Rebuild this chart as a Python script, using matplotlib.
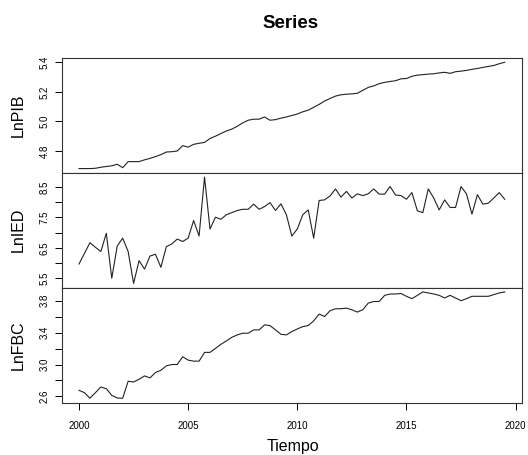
"""Stacked quarterly time series (LnPIB, LnIED, LnFBC) in R plot.ts style."""

import matplotlib

matplotlib.use("Agg")
import matplotlib.pyplot as plt
import numpy as np

START_YEAR = 2000.0
FREQ = 4

LN_PIB = [
    4.681, 4.681, 4.681, 4.683, 4.690, 4.695, 4.700, 4.710,
    4.687, 4.728, 4.728, 4.728, 4.740, 4.750, 4.762, 4.775,
    4.793, 4.795, 4.800, 4.836, 4.826, 4.845, 4.852, 4.858,
    4.884, 4.900, 4.918, 4.935, 4.948, 4.967, 4.990, 5.008,
    5.015, 5.015, 5.030, 5.008, 5.012, 5.022, 5.030, 5.040,
    5.050, 5.065, 5.076, 5.095, 5.115, 5.138, 5.155, 5.171,
    5.180, 5.184, 5.186, 5.190, 5.210, 5.230, 5.240, 5.255,
    5.264, 5.270, 5.275, 5.288, 5.290, 5.305, 5.313, 5.316,
    5.320, 5.322, 5.328, 5.332, 5.325, 5.336, 5.340, 5.345,
    5.352, 5.358, 5.365, 5.372, 5.378, 5.390, 5.400,
]

LN_IED = [
    5.97, 6.32, 6.67, 6.52, 6.38, 6.98, 5.50, 6.56,
    6.82, 6.38, 5.33, 6.08, 5.80, 6.23, 6.29, 5.86,
    6.54, 6.63, 6.79, 6.71, 6.82, 7.40, 6.89, 8.83,
    7.12, 7.51, 7.44, 7.59, 7.66, 7.73, 7.77, 7.77,
    7.94, 7.77, 7.86, 7.99, 7.73, 7.95, 7.59, 6.89,
    7.12, 7.59, 7.75, 6.82, 8.06, 8.08, 8.21, 8.44,
    8.17, 8.36, 8.14, 8.28, 8.22, 8.28, 8.44, 8.27,
    8.27, 8.52, 8.24, 8.22, 8.10, 8.32, 7.72, 7.66,
    8.44, 8.14, 7.75, 8.08, 7.83, 7.83, 8.52, 8.28,
    7.61, 8.25, 7.94, 7.97, 8.14, 8.32, 8.10,
]

LN_FBC = [
    2.676, 2.647, 2.577, 2.647, 2.718, 2.697, 2.613, 2.580,
    2.577, 2.790, 2.781, 2.815, 2.857, 2.832, 2.899, 2.928,
    2.983, 3.000, 3.000, 3.097, 3.055, 3.042, 3.042, 3.152,
    3.152, 3.202, 3.253, 3.295, 3.341, 3.371, 3.392, 3.392,
    3.434, 3.434, 3.497, 3.488, 3.434, 3.379, 3.371, 3.413,
    3.446, 3.475, 3.488, 3.547, 3.632, 3.602, 3.674, 3.699,
    3.699, 3.707, 3.686, 3.657, 3.686, 3.770, 3.790, 3.790,
    3.867, 3.884, 3.884, 3.890, 3.855, 3.825, 3.867, 3.910,
    3.897, 3.884, 3.867, 3.834, 3.867, 3.834, 3.800, 3.825,
    3.855, 3.855, 3.855, 3.855, 3.876, 3.897, 3.910,
]

SERIES_NAMES = ["LnPIB", "LnIED", "LnFBC"]
Y_TICKS = [
    [4.8, 5.0, 5.2, 5.4],
    [5.5, 6.0, 6.5, 7.0, 7.5, 8.0, 8.5],
    [2.6, 2.8, 3.0, 3.2, 3.4, 3.6, 3.8],
]
Y_TICK_LABELS = [
    ["4.8", "5.0", "5.2", "5.4"],
    ["5.5", "", "6.5", "", "7.5", "", "8.5"],
    ["2.6", "", "3.0", "", "3.4", "", "3.8"],
]
X_TICKS = [2000, 2005, 2010, 2015, 2020]


def r_limits(values):
    """Mimic R's default 4% axis extension."""
    lo, hi = float(np.min(values)), float(np.max(values))
    pad = 0.04 * (hi - lo)
    return lo - pad, hi + pad


def main():
    plt.rcParams["font.family"] = ["Liberation Sans", "DejaVu Sans"]

    series = [LN_PIB, LN_IED, LN_FBC]
    time = START_YEAR + np.arange(len(LN_PIB)) / FREQ

    fig = plt.figure(figsize=(5.28, 4.55), dpi=100)
    left, right = 62 / 528, 521.7 / 528
    top, bottom = 1 - 58 / 455, 1 - 402.5 / 455
    height = (top - bottom) / 3

    axes = []
    for i, (name, values) in enumerate(zip(SERIES_NAMES, series)):
        ax = fig.add_axes([left, top - (i + 1) * height, right - left, height])
        ax.plot(time, values, color="#222222", linewidth=0.8)
        ax.set_xlim(r_limits(time))
        ax.set_ylim(r_limits(values))
        ax.set_yticks(Y_TICKS[i])
        ax.set_yticklabels(Y_TICK_LABELS[i], rotation=90, va="center")
        ax.tick_params(axis="y", direction="out", length=5, width=0.7,
                       pad=4, labelsize=7)
        for spine in ax.spines.values():
            spine.set_linewidth(0.8)
            spine.set_color("#333333")
        if i < 2:
            ax.tick_params(axis="x", bottom=False, labelbottom=False)
        else:
            ax.set_xticks(X_TICKS)
            ax.tick_params(axis="x", direction="out", length=5, width=0.7,
                           pad=8, labelsize=7)
        yc = top - (i + 0.5) * height
        fig.text(18 / 528, yc, name, rotation=90, ha="center", va="center",
                 fontsize=11.5)
        axes.append(ax)

    fig.text(291 / 528, 1 - 23 / 455, "Series", ha="center", va="center",
             fontsize=13.5, fontweight="bold")
    fig.text(293 / 528, 1 - 446 / 455, "Tiempo", ha="center", va="center",
             fontsize=11.5)

    fig.savefig("out.png", dpi=100)
    plt.close(fig)


if __name__ == "__main__":
    main()
